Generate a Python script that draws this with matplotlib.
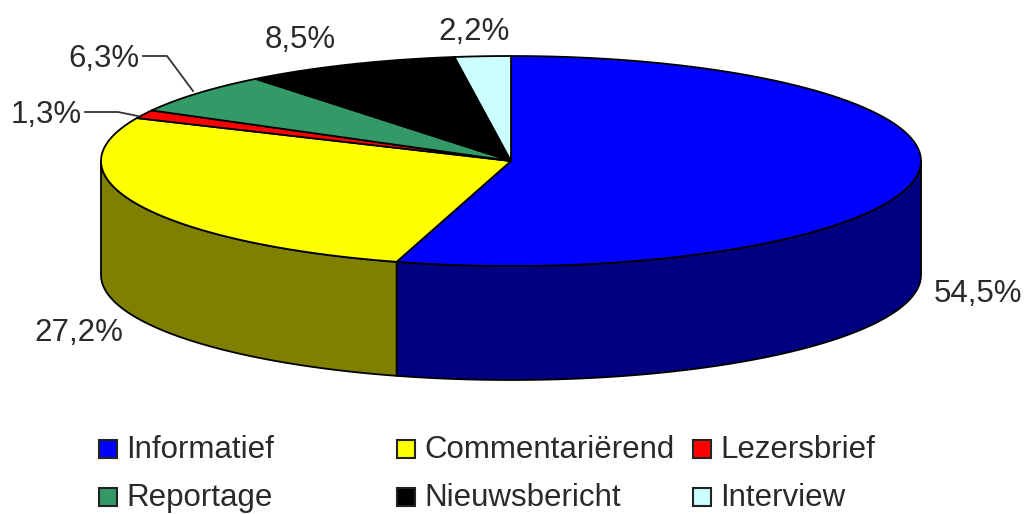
import numpy as np
import matplotlib
matplotlib.use('Agg')
import matplotlib.pyplot as plt
from matplotlib.patches import Rectangle

plt.rcParams['font.family'] = ['Liberation Sans', 'DejaVu Sans']

categories = ['Informatief', 'Commentariërend', 'Lezersbrief', 'Reportage', 'Nieuwsbericht', 'Interview']
values = [54.5, 27.2, 1.3, 6.3, 8.5, 2.2]
value_labels = ['54,5%', '27,2%', '1,3%', '6,3%', '8,5%', '2,2%']
colors = ['#0000ff', '#ffff00', '#ff0000', '#339966', '#000000', '#ccffff']
side_colors = ['#000080', '#808000', '#800000', '#1a4d33', '#000000', '#668080']

# 坐标直接用像素, 原点在左上角
cx, cy = 511, 161
rx, ry = 410, 105
depth = 114
text_color = '#2a2a2a'
font_size = 22.5


def ellipse(a):
    # a 从正上方顺时针, 单位为度
    r = np.radians(a)
    return cx + rx * np.sin(r), cy - ry * np.cos(r)


fig = plt.figure(figsize=(10.26, 5.14), dpi=100)
ax = fig.add_axes([0, 0, 1, 1])
ax.set_xlim(0, 1026)
ax.set_ylim(514, 0)
ax.axis('off')

edges = np.cumsum([0] + values) / sum(values) * 360

# 侧面: 只画前半圈可见的部分
for i in range(len(values)):
    a0 = max(edges[i], 90)
    a1 = min(edges[i + 1], 270)
    if a1 <= a0:
        continue
    a = np.linspace(a0, a1, 100)
    x, y = ellipse(a)
    ax.fill(np.r_[x, x[::-1]], np.r_[y, y[::-1] + depth], facecolor=side_colors[i],
            edgecolor='black', linewidth=1.3, zorder=2, joinstyle='round')

# 顶面
for i in range(len(values)):
    a = np.linspace(edges[i], edges[i + 1], 100)
    x, y = ellipse(a)
    ax.fill(np.r_[cx, x], np.r_[cy, y], facecolor=colors[i],
            edgecolor='black', linewidth=1.3, zorder=3, joinstyle='round')

# 数值标签
label_pos = [(978, 294), (79, 333), (46, 115), (104, 59), (300, 40), (474, 32)]
for s, (px, py) in zip(value_labels, label_pos):
    ax.text(px, py, s, fontsize=font_size, color=text_color, ha='center', va='center', zorder=5)

# 引线
ax.plot([85, 118, 138], [112, 112, 116], color='#333333', linewidth=1.3, zorder=4)
ax.plot([143, 167, 193], [56, 56, 91], color='#333333', linewidth=1.3, zorder=4)

# 图例
legend_x = [99, 397, 693]
legend_y = [449, 497]
for i, name in enumerate(categories):
    lx = legend_x[i % 3]
    ly = legend_y[i // 3]
    ax.add_patch(Rectangle((lx, ly - 9), 18, 18, facecolor=colors[i], edgecolor='#222222', linewidth=1.5))
    ax.text(lx + 27, ly + 1, name, fontsize=font_size, color=text_color, ha='left', va='center')

fig.savefig('out.png', dpi=100)
